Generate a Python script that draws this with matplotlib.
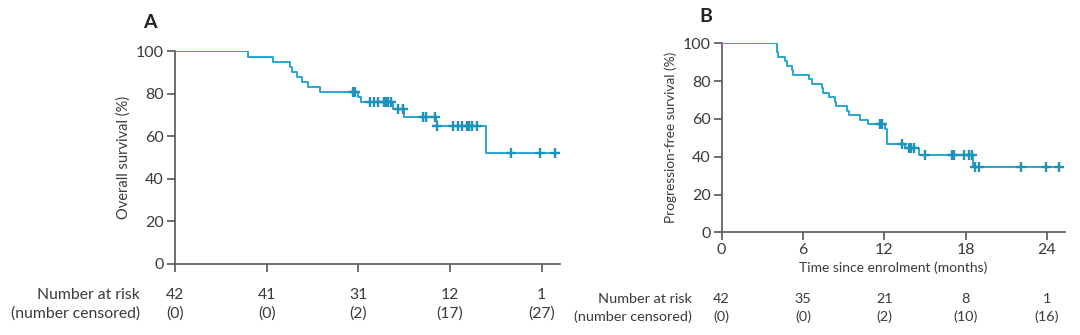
import matplotlib
matplotlib.use("Agg")
import matplotlib.pyplot as plt
import numpy as np

plt.rcParams["font.family"] = ["Lato", "DejaVu Sans"]

# Panel A: overall survival (event times in months, survival in % after each step)
os_times = [0, 4.8, 6.44, 7.53, 7.64, 7.96, 8.3, 8.72, 9.49, 12.0, 12.2,
            14.25, 14.99, 17.06, 17.12, 20.33]
os_surv = [100, 97.6, 95.2, 92.9, 90.5, 88.1, 85.7, 83.3, 81.0, 78.5, 76.0,
           72.8, 69.1, 67.0, 65.0, 52.0]
os_censor = [11.67, 11.8, 12.76, 13.05, 13.31, 13.68, 13.81, 13.96, 14.12,
             14.62, 14.95, 16.21, 16.43, 17.02, 17.15, 18.21, 18.54, 18.8,
             19.09, 19.24, 19.42, 19.74, 22.0, 23.86, 24.9]
os_end = 25.2
os_at_risk = ["42", "41", "31", "12", "1"]
os_cens_n = ["(0)", "(0)", "(2)", "(17)", "(27)"]

# Panel B: progression-free survival
pfs_times = [0, 4.05, 4.1, 4.15, 4.67, 4.8, 5.2, 5.28, 6.47, 6.64, 7.38, 7.45,
             7.94, 8.36, 8.43, 9.22, 9.42, 10.2, 10.82, 12.06, 12.23, 13.54,
             14.6, 18.53]
pfs_surv = [100, 97.6, 95.2, 92.9, 90.5, 88.1, 85.7, 83.3, 81.0, 78.6, 76.2,
            73.8, 71.4, 69.0, 66.7, 64.3, 61.9, 59.5, 57.1, 54.5, 46.8, 44.4,
            40.9, 34.4]
pfs_censor = [11.7, 11.85, 13.29, 13.85, 14.0, 14.17, 15.0, 17.0, 17.15, 17.9,
              18.26, 18.46, 18.7, 19.0, 22.1, 23.94, 24.93]
pfs_end = 25.17
pfs_at_risk = ["42", "35", "21", "8", "1"]
pfs_cens_n = ["(0)", "(0)", "(2)", "(10)", "(16)"]

xticks = [0, 6, 12, 18, 24]
yticks = [0, 20, 40, 60, 80, 100]

LINE = "#29a7cf"
MARK = "#1d93bb"
TEXT = "#3a3a3a"
AXIS = "#555555"


def draw_km(ax, times, surv, censor, end):
    t = np.append(times, end)
    s = np.append(surv, surv[-1])
    ax.step(t, s, where="post", color=LINE, linewidth=1.4, zorder=3)
    idx = np.searchsorted(times, censor, side="right") - 1
    ax.plot(censor, np.asarray(surv)[idx], linestyle="none", marker="+",
            markersize=7.5, markeredgewidth=1.7, color=MARK, zorder=4)


def style_axes(ax, xmax, show_xlabels):
    ax.set_xlim(0, xmax)
    ax.set_ylim(0, 100)
    ax.set_xticks(xticks)
    ax.set_yticks(yticks)
    if not show_xlabels:
        ax.set_xticklabels([])
    for side in ("top", "right"):
        ax.spines[side].set_visible(False)
    for side in ("left", "bottom"):
        ax.spines[side].set_color(AXIS)
        ax.spines[side].set_linewidth(1.2)
    ax.spines["bottom"].set_bounds(0, xmax)
    ax.tick_params(direction="out", length=6, width=1.2, color=AXIS,
                   labelcolor=TEXT, labelsize=11.5, pad=2)


fig = plt.figure(figsize=(10.8, 3.35), dpi=100)

ax_a = fig.add_axes([0.162, 0.2134, 0.3565, 0.633])
draw_km(ax_a, os_times, os_surv, os_censor, os_end)
style_axes(ax_a, os_end, False)
ax_a.set_ylabel("Overall survival (%)", color=TEXT, fontsize=10.5, labelpad=4)

ax_b = fig.add_axes([0.6682, 0.3066, 0.318, 0.564])
draw_km(ax_b, pfs_times, pfs_surv, pfs_censor, pfs_end)
style_axes(ax_b, 25.35, True)
ax_b.set_ylabel("Progression-free survival (%)", color=TEXT, fontsize=9.8, labelpad=4)
ax_b.set_xlabel("Time since enrolment (months)", color=TEXT, fontsize=10, labelpad=3)

fig.text(150 / 1080, 1 - 22 / 335, "A", fontsize=14, fontweight="bold",
         color="#222222", ha="center", va="center")
fig.text(706 / 1080, 1 - 17 / 335, "B", fontsize=14, fontweight="bold",
         color="#222222", ha="center", va="center")

# number-at-risk tables, aligned with the x ticks of each panel
for ax, risk, cens, label_x, y1, y2, fs in [
    (ax_a, os_at_risk, os_cens_n, 140, 295, 314, 11.3),
    (ax_b, pfs_at_risk, pfs_cens_n, 692, 299, 317, 10.4),
]:
    fig.text(label_x / 1080, 1 - y1 / 335, "Number at risk", fontsize=fs,
             color=TEXT, ha="right", va="center")
    fig.text(label_x / 1080, 1 - y2 / 335, "(number censored)", fontsize=fs,
             color=TEXT, ha="right", va="center")
    for xt, r, c in zip(xticks, risk, cens):
        xf = fig.transFigure.inverted().transform(ax.transData.transform((xt, 0)))[0]
        fig.text(xf, 1 - y1 / 335, r, fontsize=fs, color=TEXT,
                 ha="center", va="center")
        fig.text(xf, 1 - y2 / 335, c, fontsize=fs, color=TEXT,
                 ha="center", va="center")

fig.savefig("out.png", dpi=100, facecolor="white")
